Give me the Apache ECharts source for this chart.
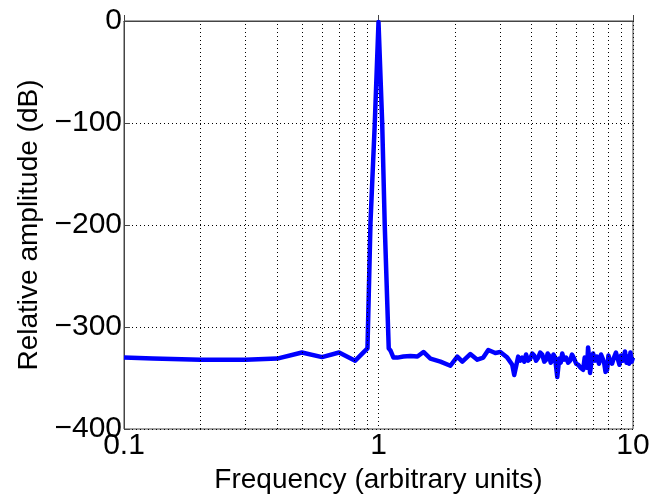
<!DOCTYPE html>
<html>
<head>
<meta charset="utf-8">
<script src="https://cdn.jsdelivr.net/npm/echarts@6/dist/echarts.min.js"></script>
<style>
  html, body { margin: 0; padding: 0; background: #fff; }
  #chart { width: 662px; height: 497px; }
</style>
</head>
<body>
<div id="chart"></div>
<script>
// spectrum: frequency (arbitrary units) / relative amplitude (dB)
const freq = [
  0.1, 0.13, 0.2, 0.3, 0.4, 0.5, 0.6, 0.7, 0.81, 0.905,
  0.93, 0.967, 1.0, 1.034, 1.058, 1.097, 1.114, 1.145, 1.187, 1.253,
  1.335, 1.422, 1.502, 1.6, 1.751, 1.916, 2.04, 2.135, 2.294, 2.445,
  2.58, 2.7, 2.877, 3.01, 3.206, 3.354, 3.414, 3.54, 3.6, 3.67, 3.74, 3.8,
  3.87, 3.945, 4.02, 4.09, 4.16, 4.24, 4.32, 4.4, 4.48, 4.56, 4.62, 4.68, 4.75, 4.81,
  4.87, 4.94, 5.04, 5.13, 5.2, 5.27, 5.36, 5.46, 5.56, 5.66, 5.76, 5.87, 5.98, 6.09,
  6.23, 6.37, 6.46, 6.54, 6.6, 6.66, 6.72, 6.78, 6.87, 6.97, 7.1, 7.22, 7.35, 7.49,
  7.6, 7.7, 7.8, 7.91, 8.01, 8.12, 8.27, 8.42, 8.57, 8.73, 8.85, 8.97, 9.13, 9.3,
  9.43, 9.56, 9.66, 9.77, 9.88, 10
];
const amp = [
  -330, -331, -332, -332, -331, -325, -329.5, -325, -333, -321,
  -198, -100, -1, -100, -200, -321, -323, -330, -330, -329,
  -328.5, -329, -324.5, -331, -334, -338, -329, -334, -326.5, -332,
  -330, -322.5, -325.5, -324.5, -330, -337, -347, -329, -333, -330, -334, -327,
  -333, -331, -326, -328, -333, -330, -325, -327, -334, -332, -326, -328, -335, -333,
  -327, -330, -349, -331, -335, -326, -332, -330, -335, -333, -327, -331, -336, -337,
  -340, -342, -330, -334, -340, -320, -330, -345, -333, -326, -333, -329, -336, -327,
  -331, -335, -344, -342, -328, -333, -336, -330, -325, -332, -337, -328, -333, -324,
  -335, -329, -336, -325, -334, -330
];

// dotted grid: minor decades of the log axis
const minorGridX = [0.2, 0.3, 0.4, 0.5, 0.6, 0.7, 0.8, 0.9, 2, 3, 4, 5, 6, 7, 8, 9];
const yTicks = { min: -400, max: 0, step: 100 };

const font = 'Liberation Sans, Arial, sans-serif';
const gridDots = { color: '#000', width: 1, type: [1, 3] };

const chart = echarts.init(document.getElementById('chart'));

const points = freq.map((f, i) => [f, amp[i]]);

chart.setOption({
  animation: false,
  backgroundColor: '#fff',
  grid: {
    left: 124, right: 29, top: 21, bottom: 68,
    outerBoundsMode: 'none',
    containLabel: false,
    show: true, borderColor: '#444', borderWidth: 1, backgroundColor: 'transparent'
  },
  xAxis: {
    type: 'log',
    logBase: 10,
    min: 0.1,
    max: 10,
    name: 'Frequency (arbitrary units)',
    nameLocation: 'middle',
    nameGap: 36,
    nameTextStyle: { fontFamily: font, fontSize: 28, color: '#000' },
    axisLine: { show: true, lineStyle: { color: '#444', width: 1 } },
    axisTick: { show: true, inside: true, length: 6, lineStyle: { color: '#444' } },
    axisLabel: {
      fontFamily: font, fontSize: 30, color: '#000', margin: 2,
      formatter: v => String(+v.toPrecision(3))
    },
    splitLine: { show: true, lineStyle: gridDots }
  },
  yAxis: {
    type: 'value',
    min: yTicks.min,
    max: yTicks.max,
    interval: yTicks.step,
    name: 'Relative amplitude (dB)',
    nameLocation: 'middle',
    nameGap: 73,
    nameRotate: 90,
    nameTextStyle: { fontFamily: font, fontSize: 28, color: '#000' },
    axisLine: { show: true, lineStyle: { color: '#444', width: 1 } },
    axisTick: { show: true, inside: true, length: 6, lineStyle: { color: '#444' } },
    axisLabel: {
      fontFamily: font, fontSize: 30, color: '#000', margin: 2,
      formatter: v => String(v).replace('-', '\u2212')
    },
    splitLine: { show: true, lineStyle: gridDots }
  },
  series: [
    {
      // carrier for the minor vertical grid lines
      type: 'line',
      data: [],
      z: 1,
      silent: true,
      markLine: {
        silent: true,
        symbol: 'none',
        label: { show: false },
        lineStyle: gridDots,
        animation: false,
        data: minorGridX.map(v => ({ xAxis: v }))
      }
    },
    {
      type: 'line',
      data: points,
      z: 3,
      showSymbol: false,
      symbol: 'none',
      lineStyle: { color: '#0000ff', width: 4.5, join: 'round' },
      itemStyle: { color: '#0000ff' }
    }
  ]
});
</script>
</body>
</html>
